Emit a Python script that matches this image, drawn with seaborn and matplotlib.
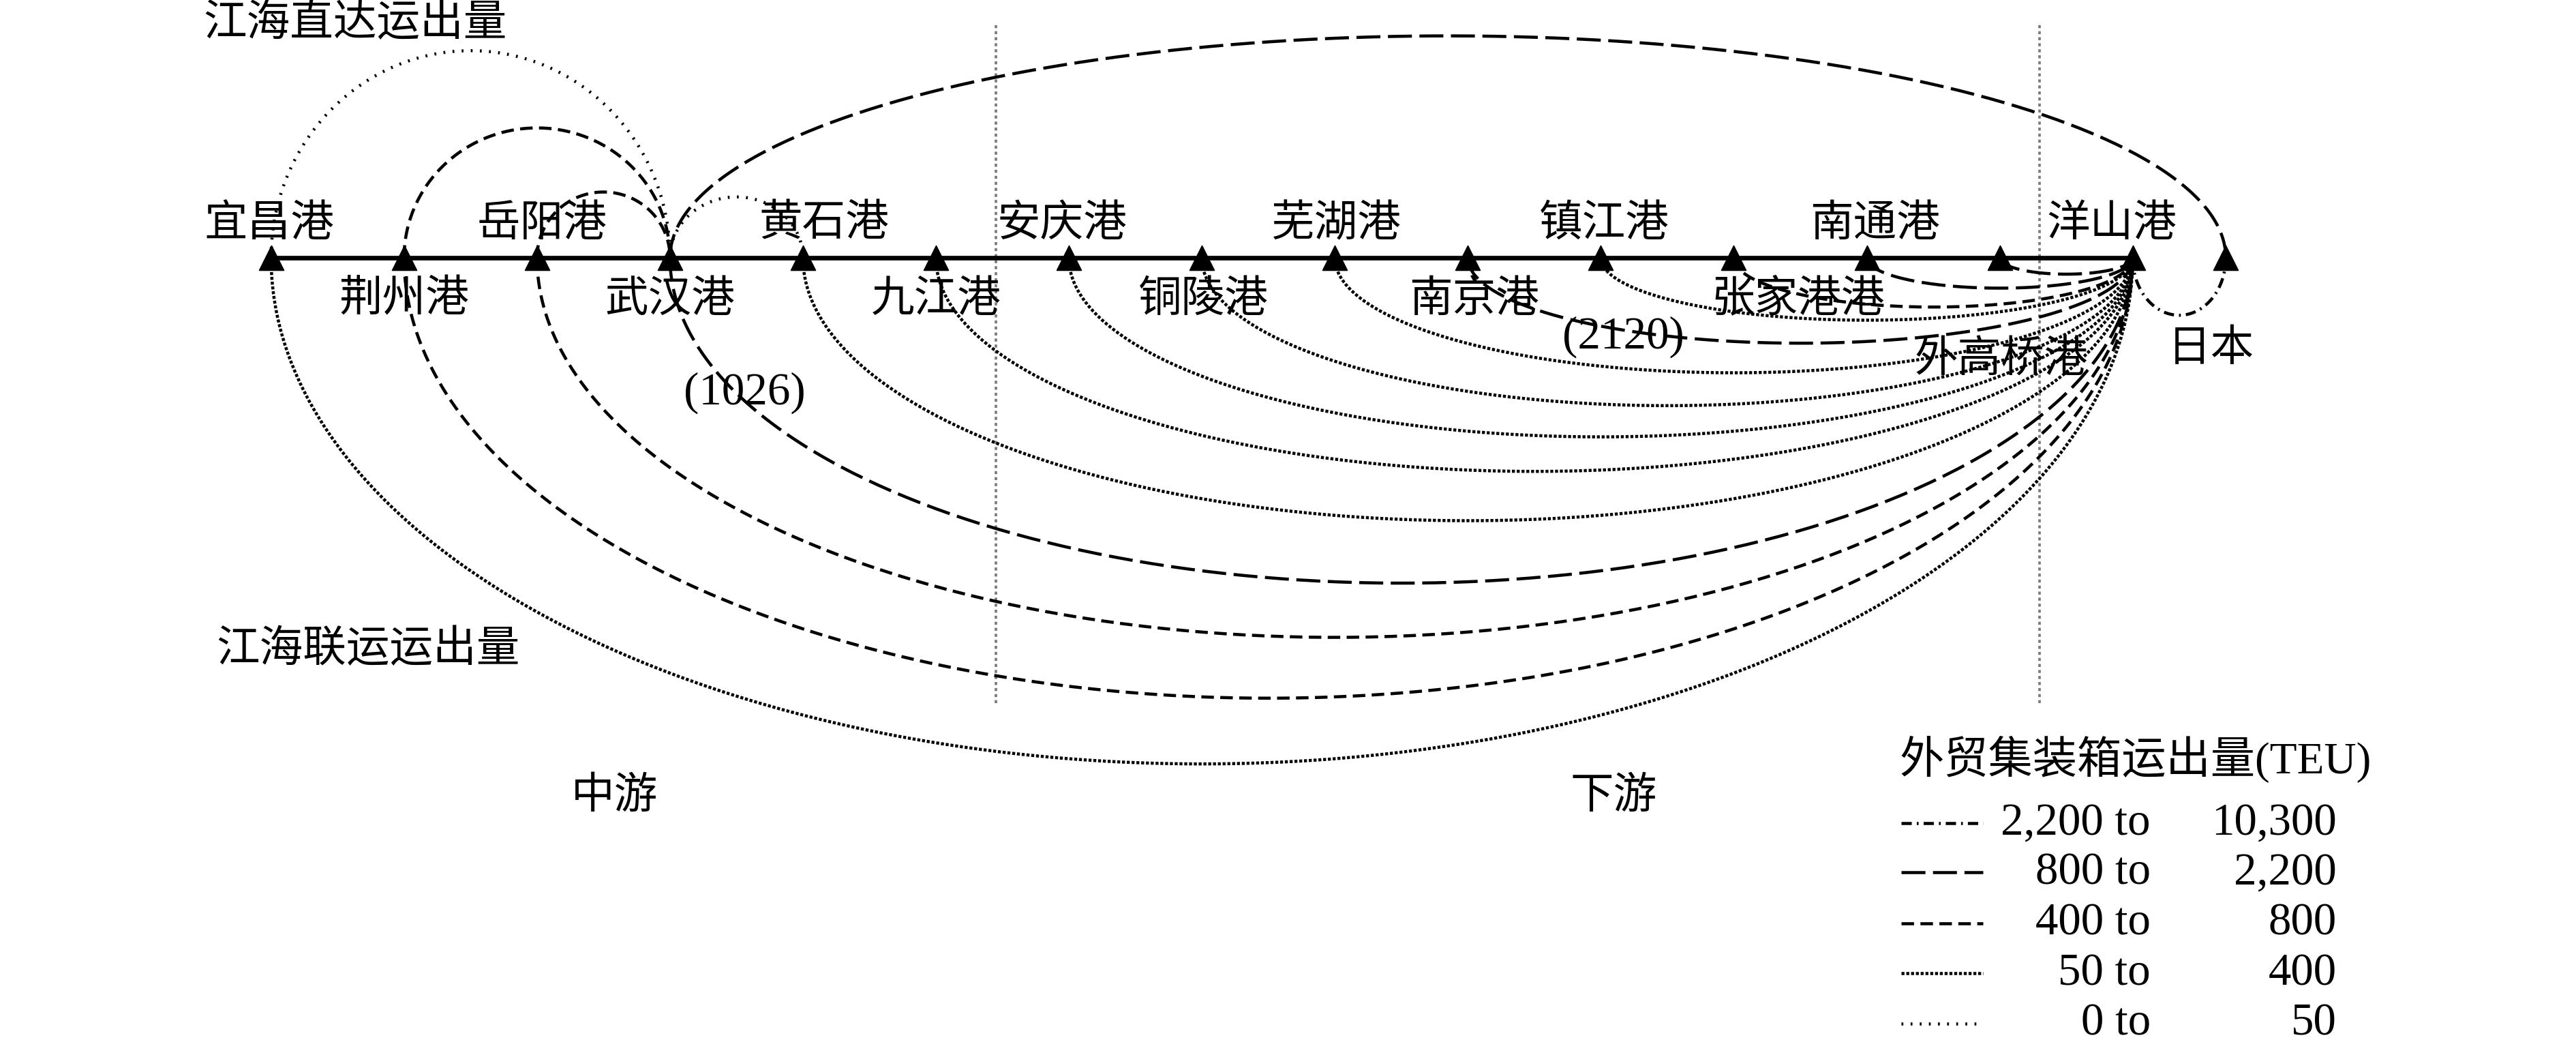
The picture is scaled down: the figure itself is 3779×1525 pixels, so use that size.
import numpy as np
import pandas as pd
import matplotlib
matplotlib.use("Agg")
import matplotlib.pyplot as plt
import seaborn as sns

# ---------------- data ----------------
ports = ["宜昌港", "荆州港", "岳阳港", "武汉港", "黄石港", "九江港", "安庆港", "铜陵港",
         "芜湖港", "南京港", "镇江港", "张家港港", "南通港", "外高桥港", "洋山港"]
japan = "日本"
japan_pos = 14.7          # 日本 sits a little beyond 洋山港 on the port axis

classes = ["2,200 to 10,300", "800 to 2,200", "400 to 800", "50 to 400", "0 to 50"]
class_lo = ["2,200 to", "800 to", "400 to", "50 to", "0 to"]
class_hi = ["10,300", "2,200", "800", "400", "50"]

# 江海联运: every port -> 洋山港, drawn under the river (arc depth)
feeder_src = ports[:-1]
feeder_depth = [308, 268, 231, 198, 160, 130, 109, 90, 70, 52, 38, 30, 18.5, 10]
feeder_class = ["50 to 400", "400 to 800", "400 to 800", "800 to 2,200", "50 to 400",
                "50 to 400", "50 to 400", "50 to 400", "50 to 400", "800 to 2,200",
                "50 to 400", "400 to 800", "800 to 2,200", "800 to 2,200"]

# 江海直达: drawn above the river (arc height)
direct_from = ["宜昌港", "荆州港", "岳阳港", "武汉港", "武汉港"]
direct_to = ["武汉港", "武汉港", "武汉港", "黄石港", "日本"]
direct_height = [126, 79, 40, 37, 135]
direct_class = ["0 to 50", "400 to 800", "400 to 800", "0 to 50", "800 to 2,200"]

# 洋山港 -> 日本
sea_depth = 35
sea_class = "2,200 to 10,300"

# reach boundaries (中游 | 下游 | sea)
boundaries = [5.45, 13.3]
reach_names = ["中游", "下游"]

# ---------------- styles ----------------
LW = 1.35
dash_pt = {
    "2,200 to 10,300": (4.5, 2.2, 0.8, 2.2),
    "800 to 2,200": (10.5, 3.3),
    "400 to 800": (5.5, 2.8),
    "50 to 400": (1.3, 0.8),
    "0 to 50": (0.8, 3.2),
}
dash_map = {k: tuple(v / LW for v in d) for k, d in dash_pt.items()}
CJK = ["Noto Sans CJK SC", "DejaVu Sans"]
SERIF = ["Liberation Serif", "Noto Sans CJK SC"]
FS = 19

W, H = 1568.0, 633.0       # layout grid of the reference (px)
X0, DX, Y0 = 165.0, 80.93, 157.0


def fx(px):
    return px / W


def fy(py):
    return 1 - py / H


# ---------------- build arcs ----------------
pos = {p: i for i, p in enumerate(ports)}
pos[japan] = japan_pos
t = np.linspace(0, np.pi, 240)
frames = []


def add_arc(key, a, b, h, cls):
    c = (pos[a] + pos[b]) / 2
    r = (pos[b] - pos[a]) / 2
    frames.append(pd.DataFrame({"arc": key, "x": c - r * np.cos(t),
                                "y": h * np.sin(t), "class": cls}))


for src, d, cls in zip(feeder_src, feeder_depth, feeder_class):
    add_arc("f_" + src, src, ports[-1], -d, cls)
for a, b, h, cls in zip(direct_from, direct_to, direct_height, direct_class):
    add_arc("d_" + a + b, a, b, h, cls)
add_arc("sea", ports[-1], japan, -sea_depth, sea_class)
arcs = pd.concat(frames, ignore_index=True)

# ---------------- figure ----------------
fig = plt.figure(figsize=(3779.4 / 241, 1525.4 / 241), dpi=241)
ax = fig.add_axes([0, 0, 1, 1])
ax.set_xlim(-X0 / DX, (W - X0) / DX)
ax.set_ylim(Y0 - H, Y0)
ax.axis("off")

sns.lineplot(data=arcs, x="x", y="y", units="arc", style="class",
             style_order=classes, dashes=dash_map, estimator=None, sort=False,
             color="black", linewidth=LW, legend=False, ax=ax, zorder=2)

# river line and port markers
ax.plot(range(len(ports)), np.zeros(len(ports)), color="black", lw=2.0, zorder=3)
marks = pd.DataFrame({"x": list(range(len(ports))) + [japan_pos],
                      "y": 0.0})
sns.scatterplot(data=marks, x="x", y="y", marker="^", s=115, color="black",
                edgecolor="black", linewidth=0.5, ax=ax, zorder=4, legend=False)

# reach boundaries
ax.vlines(boundaries, Y0 - 428, Y0 - 15, colors="#7a7a7a",
          linestyles=(0, (1.2, 1.2)), lw=1.1, zorder=1)

# port labels: (offset x px, offset y px) from the port mark
label_off = {
    "宜昌港": (-1, 21), "荆州港": (0, -25), "岳阳港": (3, 21), "武汉港": (0, -25),
    "黄石港": (13, 21), "九江港": (0, -25), "安庆港": (-4, 21), "铜陵港": (1, -25),
    "芜湖港": (1, 21), "南京港": (4, -25), "镇江港": (2, 21), "张家港港": (39, -25),
    "南通港": (5, 21), "外高桥港": (1, -62), "洋山港": (-13, 21), "日本": (-9, -55),
}
for name, (dx, dy) in label_off.items():
    ax.annotate(name, (pos[name], 0), xytext=(dx * 0.72, dy * 0.72),
                textcoords="offset points", ha="center", va="center",
                fontsize=FS, family=CJK, zorder=5)

# free texts
ax.text(fx(216), fy(14), "江海直达运出量", transform=ax.transAxes,
        ha="center", va="center", fontsize=FS, family=CJK)
ax.text(fx(224), fy(395), "江海联运运出量", transform=ax.transAxes,
        ha="center", va="center", fontsize=FS, family=CJK)
ax.text(fx(374), fy(484), reach_names[0], transform=ax.transAxes,
        ha="center", va="center", fontsize=FS, family=CJK)
ax.text(fx(982), fy(484), reach_names[1], transform=ax.transAxes,
        ha="center", va="center", fontsize=FS, family=CJK)
ax.text(fx(453), fy(239), "(1026)", transform=ax.transAxes,
        ha="center", va="center", fontsize=FS + 1, family=SERIF)
ax.text(fx(988), fy(205), "(2120)", transform=ax.transAxes,
        ha="center", va="center", fontsize=FS + 1, family=SERIF)

# legend drawn by hand (two right-aligned number columns)
ax.text(fx(1156), fy(462), "外贸集装箱运出量(TEU)", transform=ax.transAxes,
        ha="left", va="center", fontsize=FS + 0.5, family=SERIF)
leg_y = [501, 531, 562, 592.5, 623]
for cls, lo, hi, yy in zip(classes, class_lo, class_hi, leg_y):
    ax.plot([fx(1157), fx(1207)], [fy(yy), fy(yy)], transform=ax.transAxes,
            color="black", lw=LW, dashes=dash_map[cls])
    ax.text(fx(1309), fy(yy), lo, transform=ax.transAxes, ha="right",
            va="center", fontsize=FS + 1, family=SERIF)
    ax.text(fx(1422), fy(yy), hi, transform=ax.transAxes, ha="right",
            va="center", fontsize=FS + 1, family=SERIF)

fig.savefig("out.png", dpi=241, facecolor="white")
